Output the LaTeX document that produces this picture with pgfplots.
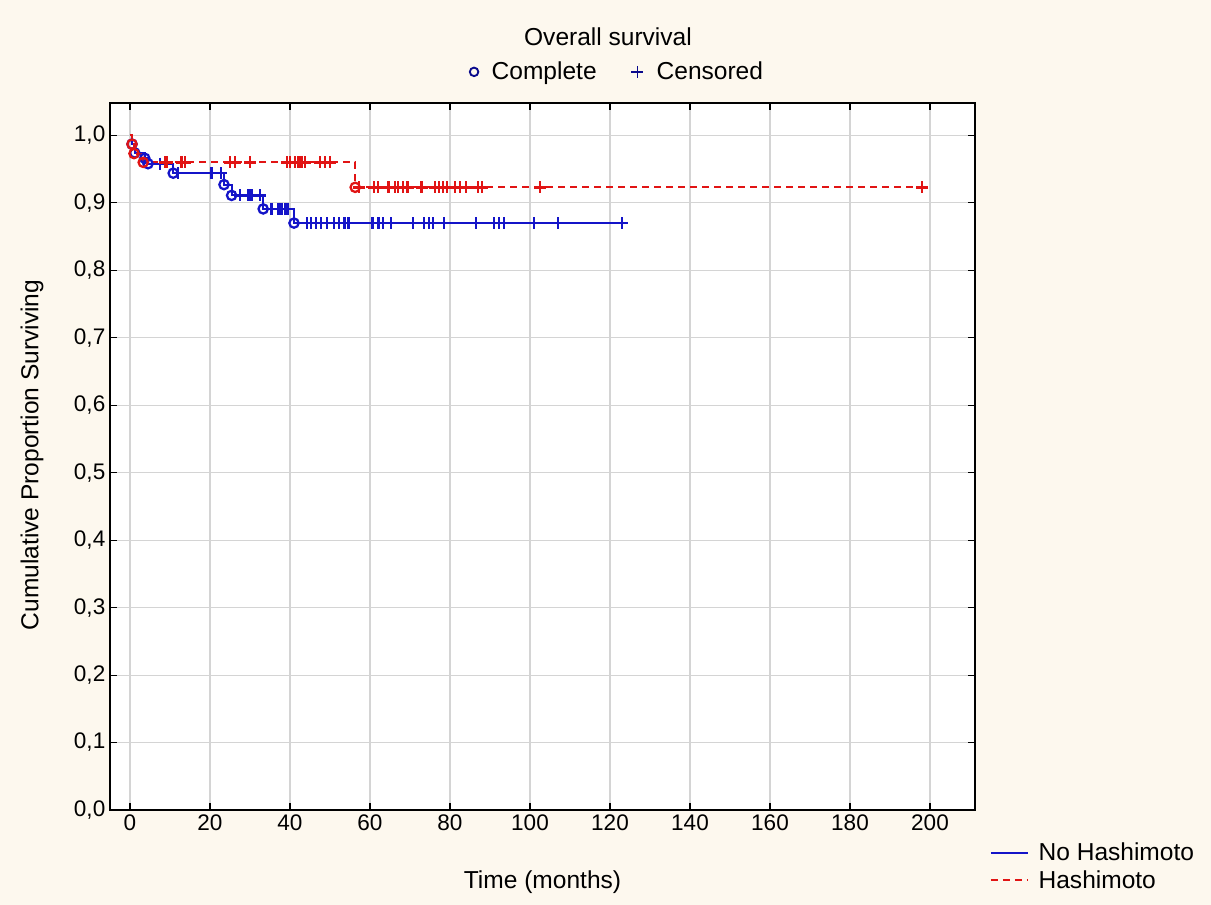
\documentclass[border=0pt]{standalone}
\usepackage{fontspec}
\setmainfont{Liberation Sans}
\usepackage{pgfplots}
\pgfplotsset{compat=1.18}
\definecolor{bg}{RGB}{253,248,238}
\definecolor{kmblue}{RGB}{20,20,200}
\definecolor{kmred}{RGB}{225,20,20}
\definecolor{navy}{RGB}{10,10,140}

\begin{document}
\begin{tikzpicture}
\fill[bg] (-82.5pt,-71.25pt) rectangle (825.75pt,607.5pt);
\begin{axis}[
  at={(0pt,0pt)}, anchor=south west,
  width=648.75pt, height=530.25pt, scale only axis,
  xmin=-5, xmax=211.25, ymin=0, ymax=1.048,
  xtick={0,20,40,60,80,100,120,140,160,180,200},
  ytick={0,0.1,0.2,0.3,0.4,0.5,0.6,0.7,0.8,0.9,1.0},
  y tick label style={/pgf/number format/.cd, fixed, fixed zerofill, precision=1, use comma},
  /pgf/number format/assume math mode=true,
  axis background/.style={fill=white},
  grid=major, major grid style={draw=black!17, line width=0.8pt},
  tick align=inside, major tick length=5pt,
  tick style={black, line width=0.8pt},
  axis line style={black, line width=1pt},
  ticklabel style={font=\fontsize{16.9}{20}\selectfont},
  label style={font=\fontsize{18.4}{22}\selectfont},
  xlabel={Time (months)}, ylabel={Cumulative Proportion Surviving},
  xlabel style={at={(axis description cs:0.5,-0.1018)}, anchor=center},
  ylabel style={at={(axis description cs:-0.0902,0.502)}, anchor=center},
  legend style={at={(axis description cs:1.017,-0.042)}, anchor=north west,
    draw=none, fill=none, font=\fontsize{18.4}{22}\selectfont,
    inner sep=0pt, row sep=2pt,
    /tikz/every odd column/.append style={column sep=5pt}},
  legend cell align=left,
  legend image code/.code={\draw[#1] (0pt,0pt) -- (28pt,0pt);},
]
% No Hashimoto
\addplot[const plot, kmblue, line width=1.5pt] coordinates {
(0,1) (0.5,0.987) (1.2,0.974) (3.7,0.966) (4.5,0.958) (10.8,0.944) (23.5,0.927) (25.4,0.911) (33.3,0.891) (41.0,0.870) (123,0.870)};
\addlegendentry{No Hashimoto}
% Hashimoto
\addplot[const plot, kmred, line width=1.4pt, dash pattern=on 5pt off 4pt] coordinates {
(0,1) (0.5,0.987) (1.0,0.973) (3.3,0.960) (56.3,0.923) (198.5,0.923)};
\addlegendentry{Hashimoto}

\addplot[forget plot, only marks, mark=o, mark size=3.5pt, kmblue, line width=1.7pt] coordinates {
(0.5,0.987) (1.2,0.974) (3.7,0.966) (4.5,0.958) (10.8,0.944) (23.5,0.927) (25.4,0.911) (33.3,0.891) (41.0,0.870)};
\addplot[forget plot, only marks, mark=+, mark size=4.5pt, kmblue, line width=1.8pt] coordinates {
(7.5,0.958)
(12.0,0.944) (20.4,0.944) (22.8,0.944)
(27.5,0.911) (29.6,0.911) (30.4,0.911) (32.5,0.911)
(35.4,0.891) (37.1,0.891) (37.9,0.891) (38.8,0.891) (39.4,0.891)
(44.3,0.870) (45.2,0.870) (46.5,0.870) (47.7,0.870) (49.2,0.870) (51.0,0.870) (52.3,0.870) (53.6,0.870) (54.6,0.870)
(60.6,0.870) (62.1,0.870) (63.3,0.870) (65.2,0.870) (70.8,0.870) (73.5,0.870) (74.8,0.870) (75.8,0.870) (78.5,0.870)
(86.5,0.870) (91.0,0.870) (92.2,0.870) (93.5,0.870) (101.0,0.870) (107.0,0.870) (123.0,0.870)};

\addplot[forget plot, only marks, mark=o, mark size=3.5pt, kmred, line width=1.7pt] coordinates {
(0.5,0.987) (1.0,0.973) (3.3,0.960) (56.3,0.923)};
\addplot[forget plot, only marks, mark=+, mark size=4.5pt, kmred, line width=1.8pt] coordinates {
(8.7,0.960) (9.2,0.960) (12.9,0.960) (13.8,0.960) (25.0,0.960) (26.3,0.960) (30.0,0.960)
(39.2,0.960) (40.0,0.960) (41.2,0.960) (42.1,0.960) (42.9,0.960) (43.8,0.960) (47.5,0.960) (48.8,0.960) (50.0,0.960)
(57.3,0.923) (61.0,0.923) (62.0,0.923) (64.6,0.923) (66.2,0.923) (67.0,0.923) (68.3,0.923) (69.4,0.923)
(72.9,0.923) (76.2,0.923) (77.2,0.923) (78.3,0.923) (79.2,0.923) (81.2,0.923) (82.5,0.923) (84.0,0.923)
(87.0,0.923) (88.0,0.923) (102.5,0.923) (198.0,0.923)};
\end{axis}

\begin{axis}[
  at={(0pt,0pt)}, anchor=south west,
  width=648.75pt, height=530.25pt, scale only axis,
  hide axis, xmin=0, xmax=1, ymin=0, ymax=1,
  legend columns=2,
  legend style={at={(axis description cs:0.587,1.044)}, anchor=center,
    draw=none, fill=none, font=\fontsize{18.4}{22}\selectfont,
    /tikz/every odd column/.append style={column sep=8pt},
    /tikz/every even column/.append style={column sep=24pt}},
]
\addlegendimage{only marks, mark=o, mark size=3.2pt, navy, line width=1.4pt}
\addlegendentry{Complete}
\addlegendimage{only marks, mark=+, mark size=4.5pt, navy, line width=1pt}
\addlegendentry{Censored}
\end{axis}

\node[font=\fontsize{18.4}{22}\selectfont] at (373.5pt,579.75pt) {Overall survival};
\end{tikzpicture}
\end{document}
